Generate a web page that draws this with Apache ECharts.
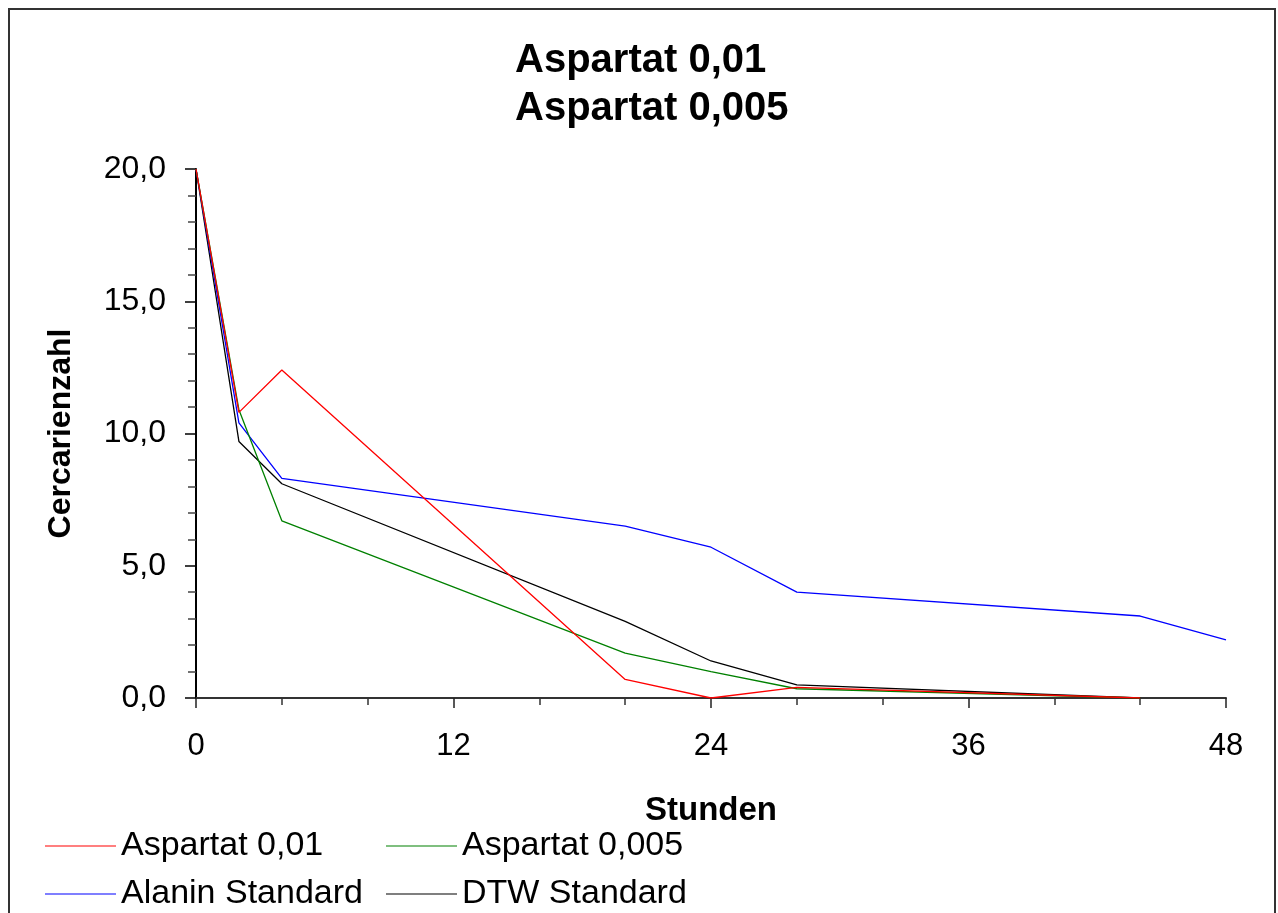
<!DOCTYPE html>
<html>
<head>
<meta charset="utf-8">
<script src="https://cdn.jsdelivr.net/npm/echarts@6/dist/echarts.min.js"></script>
<style>
html,body{margin:0;padding:0;background:#fff;}
#chart{width:1278px;height:913px;}
</style>
</head>
<body>
<div id="chart"></div>
<script>
// Data
var titleLines = ['Aspartat 0,01', 'Aspartat 0,005'];
var hours = [0, 2, 4, 20, 24, 28, 44, 48];
var seriesNames = ['Aspartat 0,01', 'Aspartat 0,005', 'Alanin Standard', 'DTW Standard'];
var aspartat001 = [20, 10.8, 12.4, 0.7, 0, 0.4, 0, null];
var aspartat0005 = [20, 10.9, 6.7, 1.7, 1.0, 0.35, 0, null];
var alaninStandard = [20, 10.4, 8.3, 6.5, 5.7, 4.0, 3.1, 2.2];
var dtwStandard = [20, 9.7, 8.1, 2.9, 1.4, 0.5, 0, null];
var xTickLabels = ['0', '12', '24', '36', '48'];
var yTickLabels = ['0,0', '5,0', '10,0', '15,0', '20,0'];

var colors = ['#ff0000', '#008000', '#0000ff', '#000000'];
var values = [aspartat001, aspartat0005, alaninStandard, dtwStandard];

function pairs(arr) {
  return hours.map(function (h, i) { return [h, arr[i]]; });
}

var font = 'Liberation Sans, Arial, sans-serif';

var chart = echarts.init(document.getElementById('chart'), null, {renderer: 'canvas'});

var legendPos = [
  {left: 45, top: 826},
  {left: 386, top: 826},
  {left: 45, top: 874},
  {left: 386, top: 874}
];

var option = {
  backgroundColor: '#ffffff',
  animation: false,
  title: {
    text: titleLines.join('\n'),
    left: 515,
    top: 37,
    padding: 0,
    textAlign: 'left',
    textStyle: {
      fontFamily: font,
      fontSize: 40,
      fontWeight: 'bold',
      color: '#000',
      lineHeight: 48,
      align: 'left'
    }
  },
  legend: seriesNames.map(function (n, i) {
    return {
      data: [n],
      left: legendPos[i].left,
      top: legendPos[i].top,
      padding: 0,
      itemWidth: 71,
      itemHeight: 14,
      icon: 'path://M0,6L71,6L71,7L0,7Z',
      itemStyle: {color: colors[i]},
      textStyle: {fontFamily: font, fontSize: 34, color: '#000', lineHeight: 40}
    };
  }),
  grid: {left: 196, right: 52, top: 169, bottom: 215, containLabel: false},
  xAxis: {
    type: 'value',
    min: 0,
    max: 48,
    interval: 12,
    name: 'Stunden',
    nameLocation: 'middle',
    nameGap: 96,
    nameTextStyle: {fontFamily: font, fontSize: 33, fontWeight: 'bold', color: '#000', lineHeight: 33},
    axisLine: {show: true, onZero: false, lineStyle: {color: '#333', width: 2}},
    axisTick: {show: true, inside: false, length: 10, lineStyle: {color: '#222', width: 1.5}},
    minorTick: {show: true, splitNumber: 3, length: 7, lineStyle: {color: '#333', width: 1.5}},
    splitLine: {show: false},
    minorSplitLine: {show: false},
    axisLabel: {
      margin: 33,
      fontFamily: font,
      fontSize: 31,
      color: '#000',
      lineHeight: 31,
      formatter: function (v) { return xTickLabels[Math.round(v / 12)]; }
    }
  },
  yAxis: {
    type: 'value',
    min: 0,
    max: 20,
    interval: 5,
    name: 'Cercarienzahl',
    nameLocation: 'middle',
    nameGap: 119,
    nameTextStyle: {fontFamily: font, fontSize: 32, fontWeight: 'bold', color: '#000', lineHeight: 32},
    axisLine: {show: true, onZero: false, lineStyle: {color: '#000', width: 2}},
    axisTick: {show: true, inside: false, length: 11, lineStyle: {color: '#000', width: 1.5}},
    minorTick: {show: true, splitNumber: 5, length: 8, lineStyle: {color: '#444', width: 1.5}},
    splitLine: {show: false},
    minorSplitLine: {show: false},
    axisLabel: {
      margin: 30,
      fontFamily: font,
      fontSize: 32,
      color: '#000',
      formatter: function (v) { return yTickLabels[Math.round(v / 5)]; }
    }
  },
  graphic: [{
    type: 'rect',
    shape: {x: 9, y: 9, width: 1266, height: 940},
    style: {fill: 'none', stroke: '#333', lineWidth: 2},
    silent: true,
    z: 100
  }],
  series: seriesNames.map(function (n, i) {
    return {
      name: n,
      type: 'line',
      data: pairs(values[i]),
      symbol: 'none',
      connectNulls: false,
      lineStyle: {color: colors[i], width: 1.3},
      itemStyle: {color: colors[i]},
      z: 2 + (3 - i)
    };
  })
};

chart.setOption(option);
</script>
</body>
</html>
